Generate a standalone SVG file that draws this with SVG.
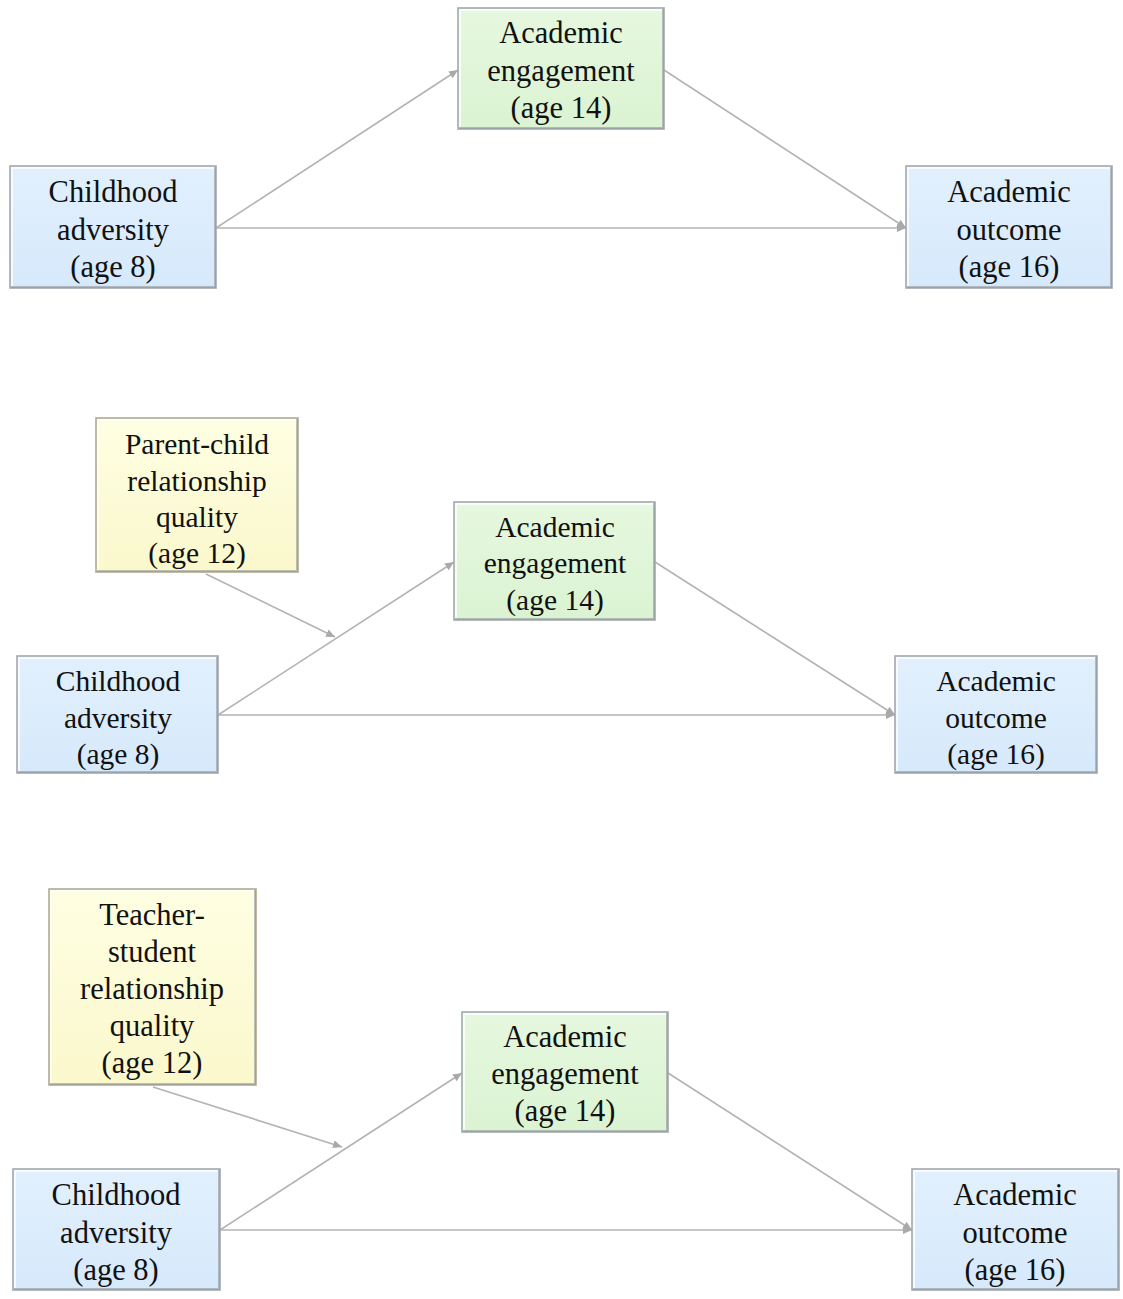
<svg xmlns="http://www.w3.org/2000/svg" width="1123" height="1299" viewBox="0 0 1123 1299">
<defs>
<linearGradient id="gBlue" x1="0" y1="0" x2="0" y2="1"><stop offset="0" stop-color="#e2f0fd"/><stop offset="1" stop-color="#d6e9fb"/></linearGradient>
<linearGradient id="gGreen" x1="0" y1="0" x2="0" y2="1"><stop offset="0" stop-color="#e6f8df"/><stop offset="1" stop-color="#dbf3d2"/></linearGradient>
<linearGradient id="gYellow" x1="0" y1="0" x2="0" y2="1"><stop offset="0" stop-color="#fefee2"/><stop offset="1" stop-color="#fbf8cc"/></linearGradient>
<marker id="arr" viewBox="0 0 9 8" refX="9" refY="4" markerWidth="9" markerHeight="8" markerUnits="userSpaceOnUse" orient="auto">
<path d="M0,0 L9,4 L0,8 z" fill="#a9a9a9"/>
</marker>
</defs>
<style>
.box{stroke:#a3a9b0;stroke-width:1.6}
.blue{fill:url(#gBlue)}
.green{fill:url(#gGreen)}
.yellow{fill:url(#gYellow);stroke:#b0ab90}
.hl{fill:none;stroke:#ffffff;stroke-opacity:0.75;stroke-width:2}
.sh{fill:none;stroke:#8f969d;stroke-opacity:0.6;stroke-width:2}
.t{font-family:"Liberation Serif","Times New Roman",serif;font-size:30.5px;fill:#111;text-anchor:middle}
.t2{font-size:29.5px}
.c{fill:none;stroke:#b3b3b3;stroke-width:1.6;marker-end:url(#arr)}
</style>
<rect width="1123" height="1299" fill="#ffffff"/>

<g id="connectors">
<line class="c" x1="216" y1="228" x2="458" y2="70"/>
<line class="c" x1="216" y1="228" x2="906" y2="228"/>
<line class="c" x1="664" y1="70" x2="906" y2="228"/>

<line class="c" x1="218" y1="715" x2="454" y2="562"/>
<line class="c" x1="218" y1="715" x2="895" y2="715"/>
<line class="c" x1="655" y1="562" x2="895" y2="715"/>
<line class="c" x1="206" y1="574" x2="335" y2="637"/>

<line class="c" x1="220" y1="1230" x2="462" y2="1073"/>
<line class="c" x1="220" y1="1230" x2="912" y2="1230"/>
<line class="c" x1="668" y1="1073" x2="912" y2="1230"/>
<line class="c" x1="153" y1="1087" x2="342" y2="1147"/>
</g>

<!-- Panel 1 -->
<g id="p1-adversity">
<rect class="box blue" x="10" y="166" width="206" height="122"/>
<path class="hl" d="M12,286 V168 H214"/>
<path class="sh" d="M215,167 V287 H11"/>
<text class="t" x="113" y="202">Childhood</text>
<text class="t" x="113" y="240">adversity</text>
<text class="t" x="113" y="277">(age 8)</text>
</g>
<g id="p1-engagement">
<rect class="box green" x="458" y="8" width="206" height="121"/>
<path class="hl" d="M460,127 V10 H662"/>
<path class="sh" d="M663,9 V128 H459"/>
<text class="t" x="561" y="43">Academic</text>
<text class="t" x="561" y="81">engagement</text>
<text class="t" x="561" y="118">(age 14)</text>
</g>
<g id="p1-outcome">
<rect class="box blue" x="906" y="166" width="206" height="122"/>
<path class="hl" d="M908,286 V168 H1110"/>
<path class="sh" d="M1111,167 V287 H907"/>
<text class="t" x="1009" y="202">Academic</text>
<text class="t" x="1009" y="240">outcome</text>
<text class="t" x="1009" y="277">(age 16)</text>
</g>

<!-- Panel 2 -->
<g id="p2-parent">
<rect class="box yellow" x="96" y="418" width="202" height="154"/>
<path class="hl" d="M98,570 V420 H296"/>
<path class="sh" d="M297,419 V571 H97"/>
<text class="t t2" x="197" y="454">Parent-child</text>
<text class="t t2" x="197" y="491">relationship</text>
<text class="t t2" x="197" y="527">quality</text>
<text class="t t2" x="197" y="563">(age 12)</text>
</g>
<g id="p2-engagement">
<rect class="box green" x="454" y="502" width="201" height="118"/>
<path class="hl" d="M456,618 V504 H653"/>
<path class="sh" d="M654,503 V619 H455"/>
<text class="t t2" x="555" y="537">Academic</text>
<text class="t t2" x="555" y="573">engagement</text>
<text class="t t2" x="555" y="610">(age 14)</text>
</g>
<g id="p2-adversity">
<rect class="box blue" x="17" y="656" width="201" height="117"/>
<path class="hl" d="M19,771 V658 H216"/>
<path class="sh" d="M217,657 V772 H18"/>
<text class="t t2" x="118" y="691">Childhood</text>
<text class="t t2" x="118" y="728">adversity</text>
<text class="t t2" x="118" y="764">(age 8)</text>
</g>
<g id="p2-outcome">
<rect class="box blue" x="895" y="656" width="202" height="117"/>
<path class="hl" d="M897,771 V658 H1095"/>
<path class="sh" d="M1096,657 V772 H896"/>
<text class="t t2" x="996" y="691">Academic</text>
<text class="t t2" x="996" y="728">outcome</text>
<text class="t t2" x="996" y="764">(age 16)</text>
</g>

<!-- Panel 3 -->
<g id="p3-teacher">
<rect class="box yellow" x="49" y="889" width="207" height="196"/>
<path class="hl" d="M51,1083 V891 H254"/>
<path class="sh" d="M255,890 V1084 H50"/>
<text class="t" x="152" y="925">Teacher-</text>
<text class="t" x="152" y="962">student</text>
<text class="t" x="152" y="999">relationship</text>
<text class="t" x="152" y="1036">quality</text>
<text class="t" x="152" y="1073">(age 12)</text>
</g>
<g id="p3-engagement">
<rect class="box green" x="462" y="1012" width="206" height="120"/>
<path class="hl" d="M464,1130 V1014 H666"/>
<path class="sh" d="M667,1013 V1131 H463"/>
<text class="t" x="565" y="1047">Academic</text>
<text class="t" x="565" y="1084">engagement</text>
<text class="t" x="565" y="1121">(age 14)</text>
</g>
<g id="p3-adversity">
<rect class="box blue" x="13" y="1169" width="207" height="121"/>
<path class="hl" d="M15,1288 V1171 H218"/>
<path class="sh" d="M219,1170 V1289 H14"/>
<text class="t" x="116" y="1205">Childhood</text>
<text class="t" x="116" y="1243">adversity</text>
<text class="t" x="116" y="1280">(age 8)</text>
</g>
<g id="p3-outcome">
<rect class="box blue" x="912" y="1169" width="207" height="121"/>
<path class="hl" d="M914,1288 V1171 H1117"/>
<path class="sh" d="M1118,1170 V1289 H913"/>
<text class="t" x="1015" y="1205">Academic</text>
<text class="t" x="1015" y="1243">outcome</text>
<text class="t" x="1015" y="1280">(age 16)</text>
</g>
</svg>
